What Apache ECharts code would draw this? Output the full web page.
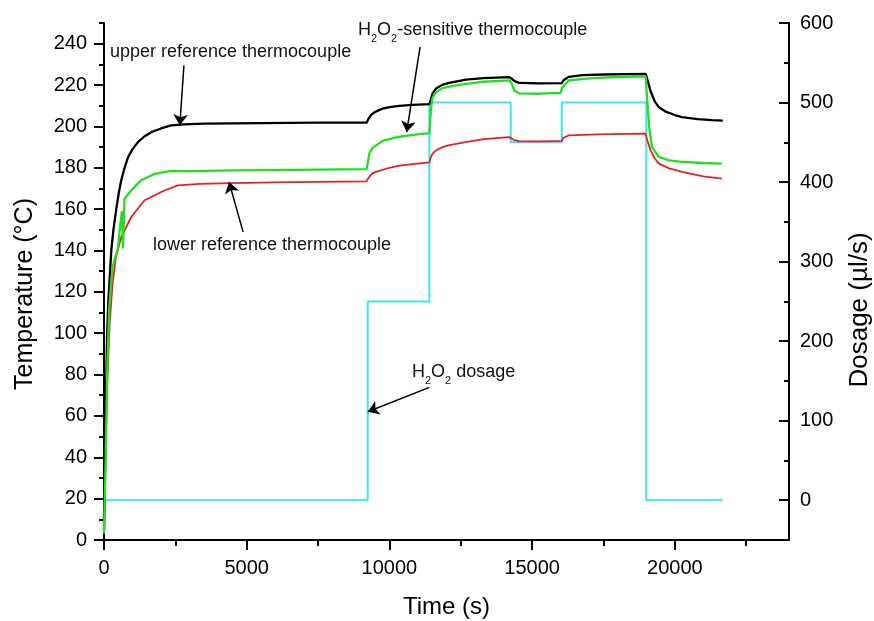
<!DOCTYPE html>
<html>
<head>
<meta charset="utf-8">
<script src="https://cdn.jsdelivr.net/npm/echarts@6/dist/echarts.min.js"></script>
<style>html,body{margin:0;padding:0;background:#fff}#chart{width:874px;height:621px}</style>
</head>
<body>
<div id="chart"></div>
<script>
// ---- data (time in s, temperature in °C, dosage in µl/s) ----
const upperReference = [[0,5],[40,40],[70,70],[105,97],[150,115],[200,127],[256,140],[330,150],[430,160],[520,168],[605,174],[700,179],[840,185],[1000,189],[1190,192.4],[1400,195],[1655,197.2],[2000,199],[2350,200.5],[2800,201],[3500,201.3],[4500,201.5],[5500,201.6],[6500,201.7],[7500,201.8],[8500,201.8],[9200,201.8],[9260,203.5],[9350,205.5],[9500,207],[9760,208.6],[10000,209.3],[10350,209.9],[10800,210.4],[11400,210.8],[11450,213],[11515,216],[11650,218.5],[11865,220.2],[12100,221],[12680,222.6],[13300,223.3],[14195,223.8],[14280,223.2],[14370,222],[14545,221],[15245,220.8],[16040,220.9],[16100,222.3],[16290,224],[16760,224.8],[17500,225.1],[18300,225.3],[18980,225.4],[19050,222],[19150,217],[19300,212],[19440,209.3],[19700,207],[20000,205.5],[20250,204.5],[20800,203.5],[21300,203],[21680,202.8]];
const sensitiveThermocouple = [[0,3],[60,40],[110,80],[180,112],[300,132],[420,138],[490,141],[560,151],[630,159],[665,141],[720,165],[955,169],[1305,174],[1770,177],[2350,178.5],[3000,178.4],[4500,178.7],[6000,178.9],[7500,179.1],[9200,179.3],[9250,183],[9300,187],[9400,189.5],[9760,193],[10350,195],[10900,196],[11400,196.8],[11460,209],[11515,214],[11630,216.5],[11865,218.5],[12100,219.2],[12680,220.6],[13300,221.6],[14195,222.3],[14280,221],[14370,217.4],[14545,216],[15245,215.8],[16000,216.2],[16060,219],[16290,222.2],[16800,223],[17340,223.5],[18200,224],[18980,224.2],[19020,215],[19100,200],[19200,190],[19440,185.2],[19800,183.6],[20250,182.8],[21000,182.3],[21650,182]];
const lowerReference = [[0,5],[50,40],[110,75],[200,105],[300,124],[420,137],[605,146.5],[955,156.2],[1420,164.3],[2120,169],[2590,171.5],[3360,172.2],[4500,172.6],[6000,172.9],[7500,173.2],[9200,173.4],[9260,175],[9400,177.3],[9530,178],[10000,180],[10350,181],[10900,181.9],[11400,182.6],[11450,185],[11515,186.8],[11650,188.6],[11865,190],[12100,190.9],[12680,192.4],[13300,193.8],[14195,194.8],[14280,194.2],[14370,193.4],[14545,192.9],[15245,192.8],[16040,193],[16100,194.5],[16290,195.7],[17340,196.1],[18970,196.5],[19020,194],[19150,188.4],[19300,184.5],[19440,182],[19800,179.7],[20250,178],[21000,175.8],[21650,174.7]];
const dosageTimes = [0, 9240, 11400, 14250, 16040, 19000, 21680];
const dosageRates = [0, 250, 500, 450, 500, 0, 0];

// ---- axis ticks ----
const timeTicks = [0, 5000, 10000, 15000, 20000];
const timeMinorTicks = [2500, 7500, 12500, 17500, 22500];
const tempTicks = [0, 20, 40, 60, 80, 100, 120, 140, 160, 180, 200, 220, 240];
const tempMinorTicks = [10, 30, 50, 70, 90, 110, 130, 150, 170, 190, 210, 230, 250];
const dosageTicks = [0, 100, 200, 300, 400, 500, 600];
const dosageMinorTicks = [50, 150, 250, 350, 450, 550];

// ---- annotation arrows: [from(time,temp), to(time,temp)] ----
const arrowUpper = [[2800, 229.5], [2657, 200.5]];
const arrowSensitive = [[11073, 238.3], [10605, 197.2]];
const arrowLower = [[4872, 149], [4382, 173.1]];
const arrowDosage = [[11400, 73.8], [9240, 62]];

const FONT = '"Liberation Sans", Arial, sans-serif';
const BLACK = '#000';
const axisLineStyle = { color: BLACK, width: 2 };
const plain = v => String(v);

const chart = echarts.init(document.getElementById('chart'), null, { renderer: 'canvas' });

const arrows = [arrowUpper, arrowSensitive, arrowLower, arrowDosage].map(a => [
  { coord: a[0] }, { coord: a[1] }
]);

const option = {
  animation: false,
  backgroundColor: '#fff',
  textStyle: { fontFamily: FONT },
  grid: { left: 104, right: 85, top: 23, bottom: 81, containLabel: false, outerBoundsMode: 'none' },
  xAxis: [
    {
      type: 'value', min: 0, max: 24000, position: 'bottom',
      axisLine: { show: true, onZero: false, lineStyle: axisLineStyle },
      axisTick: { show: true, customValues: timeTicks, length: 10, lineStyle: axisLineStyle },
      axisLabel: { show: true, customValues: timeTicks, formatter: plain, fontSize: 20, color: BLACK, margin: 18, fontFamily: FONT },
      splitLine: { show: false },
      name: 'Time (s)', nameLocation: 'middle', nameGap: 55,
      nameTextStyle: { fontSize: 24, color: BLACK, fontFamily: FONT }
    },
    {
      type: 'value', min: 0, max: 24000, position: 'bottom',
      axisLine: { show: false, onZero: false },
      axisTick: { show: true, customValues: timeMinorTicks, length: 6, lineStyle: axisLineStyle },
      axisLabel: { show: false },
      splitLine: { show: false }
    }
  ],
  yAxis: [
    {
      type: 'value', min: 0, max: 250, position: 'left',
      axisLine: { show: true, onZero: false, lineStyle: axisLineStyle },
      axisTick: { show: true, customValues: tempTicks, length: 10, lineStyle: axisLineStyle },
      axisLabel: { show: true, customValues: tempTicks, formatter: plain, fontSize: 20, color: BLACK, margin: 17, fontFamily: FONT },
      splitLine: { show: false },
      name: 'Temperature (°C)', nameLocation: 'middle', nameGap: 66,
      nameTextStyle: { fontSize: 25, color: BLACK, fontFamily: FONT, padding: [0, 25, 0, 0] }
    },
    {
      type: 'value', min: -50, max: 600, position: 'right',
      axisLine: { show: true, onZero: false, lineStyle: axisLineStyle },
      axisTick: { show: true, inside: true, customValues: dosageTicks, length: 10, lineStyle: axisLineStyle },
      axisLabel: { show: true, customValues: dosageTicks, formatter: plain, fontSize: 20, color: BLACK, margin: 11, fontFamily: FONT },
      splitLine: { show: false },
      name: 'Dosage (µl/s)', nameLocation: 'middle', nameGap: 58,
      nameTextStyle: { fontSize: 26, color: BLACK, fontFamily: FONT, padding: [0, 57, 0, 0] }
    },
    {
      type: 'value', min: 0, max: 250, position: 'left',
      axisLine: { show: false, onZero: false },
      axisTick: { show: true, customValues: tempMinorTicks, length: 5, lineStyle: axisLineStyle },
      axisLabel: { show: false },
      splitLine: { show: false }
    },
    {
      type: 'value', min: -50, max: 600, position: 'right',
      axisLine: { show: false, onZero: false },
      axisTick: { show: true, inside: true, customValues: dosageMinorTicks, length: 5, lineStyle: axisLineStyle },
      axisLabel: { show: false },
      splitLine: { show: false }
    }
  ],
  series: [
    {
      name: 'H2O2 dosage', type: 'line', xAxisIndex: 0, yAxisIndex: 1,
      data: dosageTimes.map((t, i) => [t, dosageRates[i]]),
      step: 'end', showSymbol: false, symbol: 'none',
      lineStyle: { color: '#3ee4f0', width: 2 }, z: 2
    },
    {
      name: 'lower reference thermocouple', type: 'line', xAxisIndex: 0, yAxisIndex: 0,
      data: lowerReference, showSymbol: false, symbol: 'none',
      lineStyle: { color: '#e42222', width: 1.8 }, z: 3
    },
    {
      name: 'upper reference thermocouple', type: 'line', xAxisIndex: 0, yAxisIndex: 0,
      data: upperReference, showSymbol: false, symbol: 'none',
      lineStyle: { color: '#000', width: 2.3 }, z: 4,
      markLine: {
        silent: true, symbol: ['none', 'arrow'], symbolSize: 11,
        label: { show: false },
        lineStyle: { color: '#000', width: 1.5, type: 'solid' },
        emphasis: { disabled: true },
        data: arrows
      }
    },
    {
      name: 'H2O2-sensitive thermocouple', type: 'line', xAxisIndex: 0, yAxisIndex: 0,
      data: sensitiveThermocouple, showSymbol: false, symbol: 'none',
      lineStyle: { color: '#22dd22', width: 2.3 }, z: 5
    }
  ],
  graphic: [
    { type: 'text', x: 110, y: 52, z: 10,
      style: { text: 'upper reference thermocouple', font: '18px ' + FONT, fill: '#111', verticalAlign: 'middle' } },
    { type: 'text', x: 358, y: 30, z: 10,
      style: { text: 'H{s|2}O{s|2}-sensitive thermocouple', font: '18px ' + FONT, fill: '#111', verticalAlign: 'middle',
        rich: { s: { fontSize: 11, fontFamily: FONT, fill: '#111', padding: [18, 0, 0, 0] } } } },
    { type: 'text', x: 153, y: 245.5, z: 10,
      style: { text: 'lower reference thermocouple', font: '18px ' + FONT, fill: '#111', verticalAlign: 'middle' } },
    { type: 'text', x: 412, y: 372, z: 10,
      style: { text: 'H{s|2}O{s|2} dosage', font: '18px ' + FONT, fill: '#111', verticalAlign: 'middle',
        rich: { s: { fontSize: 11, fontFamily: FONT, fill: '#111', padding: [18, 0, 0, 0] } } } }
  ]
};
chart.setOption(option);
</script>
</body>
</html>
